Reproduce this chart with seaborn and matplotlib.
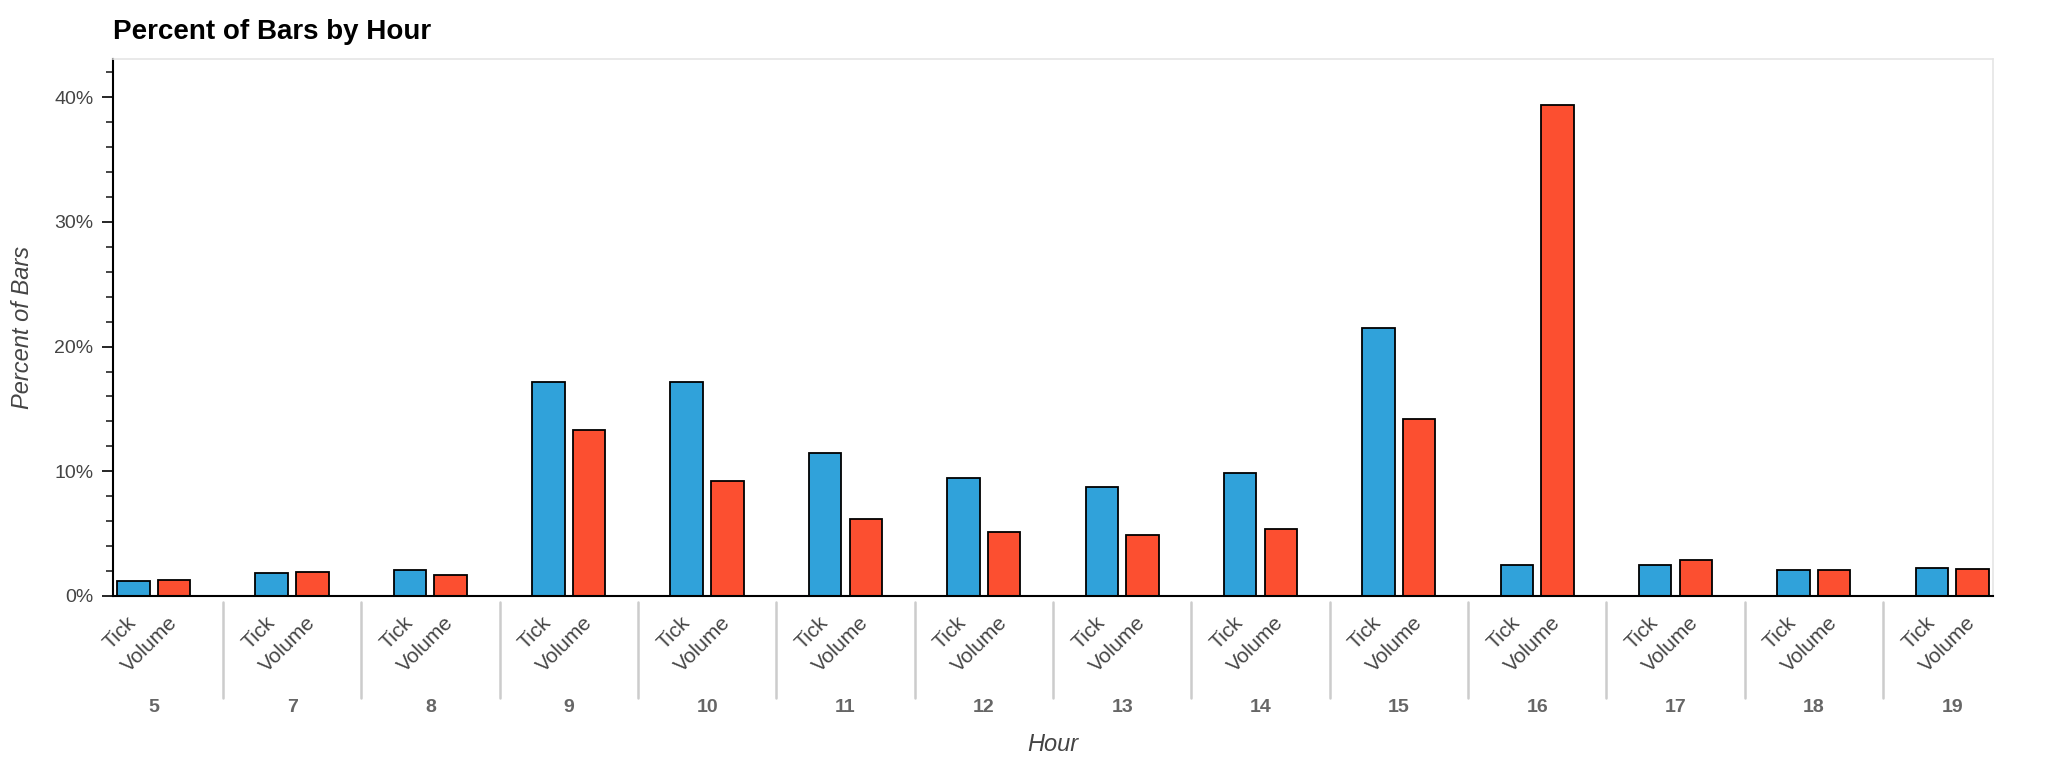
import numpy as np
import pandas as pd
import matplotlib.pyplot as plt
import matplotlib.transforms as mtransforms
from matplotlib.ticker import MultipleLocator, FuncFormatter
import seaborn as sns

# ---- data ----
hours = ["5", "7", "8", "9", "10", "11", "12", "13", "14", "15", "16", "17", "18", "19"]
bar_types = ["Tick", "Volume"]
tick_pct = [1.2, 1.85, 2.05, 17.2, 17.2, 11.5, 9.5, 8.7, 9.9, 21.5, 2.45, 2.5, 2.05, 2.25]
volume_pct = [1.25, 1.9, 1.7, 13.3, 9.2, 6.2, 5.1, 4.9, 5.4, 14.2, 39.4, 2.9, 2.1, 2.15]
colors = ["#30a2da", "#fc4f30"]

df = pd.DataFrame({
    "Hour": hours * 2,
    "Type": [bar_types[0]] * len(hours) + [bar_types[1]] * len(hours),
    "Pct": tick_pct + volume_pct,
})

sns.set_style("white")
plt.rcParams["font.family"] = ["Liberation Sans", "DejaVu Sans"]

fig = plt.figure(figsize=(20.48, 7.6), dpi=100)
ax = fig.add_axes([0.0552, 0.2158, 0.9179, 0.7072])

# bokeh-like nested layout: 2 factors per group, 1.4 factor padding between groups
unit = 1 / 3.4
group_w = 2 * unit
sns.barplot(
    data=df, x="Hour", y="Pct", hue="Type",
    order=hours, hue_order=bar_types, palette=colors,
    width=group_w, gap=0.2, saturation=1,
    edgecolor="black", linewidth=1.3,
    errorbar=None, legend=False, ax=ax,
)

n = len(hours)
ax.set_xlim(-unit, n - 1 + unit)
ax.set_ylim(0, 43.1)

for side in ["left", "bottom"]:
    ax.spines[side].set_color("black")
    ax.spines[side].set_linewidth(1.5)
for side in ["top", "right"]:
    ax.spines[side].set_color("#e5e5e5")
    ax.spines[side].set_linewidth(1.2)

# sub-factor ticks (Tick / Volume)
offs = group_w / 4
pos = [i + s * offs for i in range(n) for s in (-1, 1)]
ax.set_xticks([])
ax.set_xticks(pos, minor=True)
ax.tick_params(axis="x", which="minor", direction="out", length=8, width=1.4,
               color="black", pad=9, labelsize=15, labelcolor="#444444")
ax.set_xticklabels(bar_types * n, minor=True, rotation=45, ha="right",
                   va="center", rotation_mode="anchor")

# y axis
ax.yaxis.set_major_locator(MultipleLocator(10))
ax.yaxis.set_minor_locator(MultipleLocator(2))
ax.yaxis.set_major_formatter(FuncFormatter(lambda v, _: f"{v:.0f}%"))
ax.tick_params(axis="y", which="major", left=True, direction="out", length=8,
               width=1.4, pad=6, labelsize=14, labelcolor="#444444")
ax.tick_params(axis="y", which="minor", left=True, direction="out", length=5,
               width=1.2)

# group separators and group labels
trans = mtransforms.blended_transform_factory(ax.transData, ax.transAxes)
for i in range(n - 1):
    ax.plot([i + 0.5, i + 0.5], [-0.012, -0.19], transform=trans,
            color="#cccccc", lw=1.8, clip_on=False)
for i, h in enumerate(hours):
    ax.text(i, -0.207, h, transform=trans, ha="center", va="center",
            fontsize=14, fontweight="bold", color="#666666")

ax.set_xlabel("Hour", fontsize=17, fontstyle="italic", color="#444444")
ax.xaxis.set_label_coords(0.5, -0.277)
ax.xaxis.label.set_va("center")
ax.set_ylabel("Percent of Bars", fontsize=17, fontstyle="italic", color="#444444")
ax.yaxis.set_label_coords(-0.0484, 0.5)
ax.yaxis.label.set_va("center")

fig.text(0.0552, 1 - 32 / 760, "Percent of Bars by Hour", fontsize=20,
         fontweight="bold", color="black", ha="left", va="center")

fig.savefig("out.png", dpi=100)
